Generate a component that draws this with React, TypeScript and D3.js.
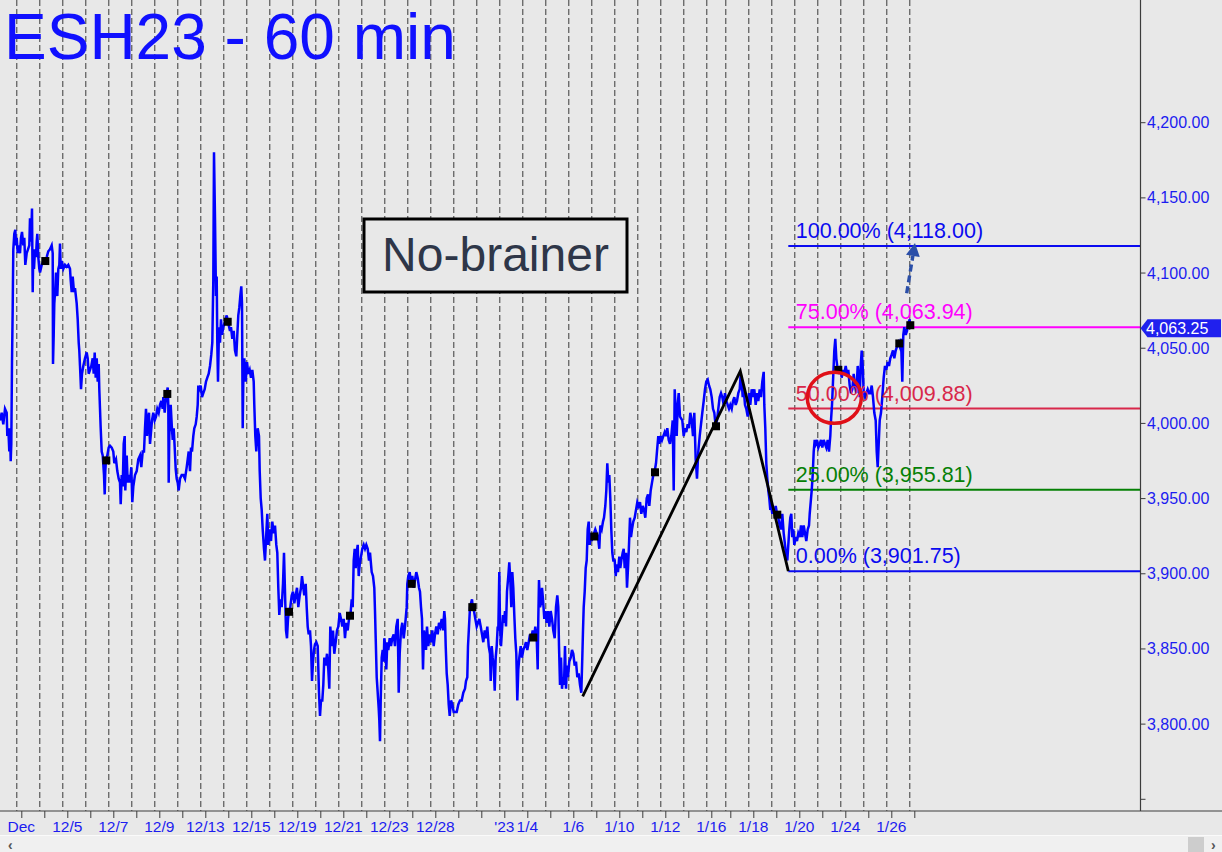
import React from "react";
import * as d3 from "d3";

// ---------- data ----------
// trading sessions shown (one per dashed grid column), bars per session (60-min bars)
const dayLabels: string[] = [
  "Dec", "", "12/5", "", "12/7", "", "12/9", "", "12/13", "", "12/15", "", "12/19", "", "12/21", "", "12/23", "", "12/28", "",
  "", "'23", "1/4", "", "1/6", "", "1/10", "", "1/12", "", "1/16", "", "1/18", "", "1/20", "", "1/24", "", "1/26", "",
];
const sessionBars: number[] = [
  23, 23, 23, 23, 23, 23, 23, 23, 23, 23, 23, 23, 23, 23, 23, 23, 23, 23, 23, 23,
  23, 23, 23, 23, 23, 23, 23, 23, 23, 23, 19, 23, 23, 23, 23, 23, 23, 23, 23, 23,
];

// [bar index (hours from Dec 1 session start), price]
const priceNovDec: [number, number][] = [
  [-16.3,4002.0],[-14.6,4007.1],[-13.0,3999.4],[-11.3,4009.7],[-9.6,4007.1],[-9.0,3991.6],[-8.0,3996.8],[-7.0,3981.3],[-6.3,3996.8],[-5.6,3974.8],[-5.0,3986.4],[-4.3,4040.8],[-3.6,4077.0],[-3.0,4115.8],[-2.0,4126.1],[-1.0,4128.7],[-0.3,4118.4],[0.4,4123.5],[1.4,4113.2],[2.4,4118.4],[3.7,4113.2],[4.7,4123.5],[5.7,4127.4],[7.0,4118.4],[8.0,4123.5],[9.0,4105.4],[10.4,4113.2],[11.7,4115.8],[13.0,4118.4],[13.7,4136.5],[14.7,4120.9],[15.7,4142.9],[16.4,4087.3],[17.0,4115.8],[17.7,4102.8],[18.7,4115.8],[19.7,4110.6],[20.4,4120.9],[21.0,4126.1],[22.0,4110.6],[23.0,4102.8],[23.7,4100.3],[25.4,4105.4],[27.0,4108.0],[29.0,4108.0],[30.4,4110.6],[32.0,4114.5],[33.7,4115.8],[35.4,4118.4],[36.4,4113.2],[36.7,4039.5],[37.4,4058.9],[38.0,4079.6],[39.0,4089.9],[39.7,4100.3],[41.0,4084.7],[42.0,4102.8],[43.0,4105.4],[43.7,4119.7],[44.4,4102.8],[45.4,4108.0],[47.0,4102.8],[48.7,4105.4],[50.4,4104.1],[52.0,4105.4],[53.7,4102.8],[54.4,4095.1],[55.4,4087.3],[56.4,4097.7],[57.7,4087.3],[58.7,4089.9],[60.4,4079.6],[61.4,4069.2],[62.4,4053.7],[63.0,4048.5],[63.7,4038.2],[64.7,4022.7],[65.7,4033.0],[67.0,4038.2],[68.7,4043.3],[70.4,4047.2],[71.4,4043.3],[72.4,4033.0],[73.7,4035.6],[75.0,4038.2],[76.4,4043.3],[77.4,4033.0],[78.4,4047.2],[79.4,4030.4],[80.4,4043.3],[81.4,4027.8],[82.4,4039.5],[83.0,4022.7],[83.7,4009.7],[84.4,3996.8],[85.4,3981.3],[86.4,3978.7],[87.7,3965.7],[88.4,3952.8],[89.0,3968.3],[89.7,3976.1],[91.0,3978.7],[92.4,3983.9],[93.7,3985.1],[95.4,3983.9],[97.0,3981.3],[98.0,3973.5],[99.7,3976.1],[101.0,3968.3],[102.4,3963.2],[103.7,3960.6],[104.4,3946.3],[105.4,3965.7],[106.4,3958.0],[107.4,3986.4],[108.4,3991.6],[109.0,3955.4],[110.4,3978.7],[111.4,3960.6],[112.4,3965.7],[113.7,3960.6],[115.0,3970.9],[116.0,3947.6],[117.0,3958.0],[118.7,3965.7],[120.4,3968.3],[122.0,3976.1],[123.7,3978.7],[125.0,3970.9],[126.4,3981.3],[127.7,3981.3],[128.7,3996.8],[129.7,4009.7],[130.7,3991.6],[131.7,4002.0],[132.7,4007.1],[133.7,3986.4],[134.7,3994.2],[135.7,4002.0],[137.0,4007.1],[138.4,4002.0],[139.7,4004.5],[141.0,4009.7],[142.4,4007.1],[143.7,4012.3],[145.0,4014.9],[146.4,4009.7],[147.0,4017.5],[148.4,4007.1],[149.0,4012.3],[150.4,4020.1],[151.4,4023.9],[152.0,4012.3],[152.4,3960.6],[153.0,3991.6],[154.4,4012.3],[155.4,3999.4],[156.4,3989.0],[157.4,3996.8],[158.4,3983.9],[159.4,3969.6],[160.4,3963.2],[161.4,3960.6],[162.4,3955.4],[163.7,3963.2],[165.4,3965.7],[167.0,3965.7],[168.7,3963.2],[170.4,3970.9],[171.4,3976.1],[172.4,3981.3],[173.7,3968.3],[174.7,3983.9],[175.7,3981.3],[177.0,3991.6],[178.0,3996.8],[179.4,3999.4],[180.4,4004.5],[181.4,4012.3],[182.0,4025.2],[183.0,4022.7],[184.4,4025.2],[185.7,4017.5],[187.0,4020.1],[188.4,4022.7],[189.7,4027.8],[191.0,4030.4],[192.4,4033.0],[193.7,4038.2],[195.0,4045.9],[196.0,4053.7],[197.0,4095.1],[197.7,4180.4],[198.7,4136.5],[199.7,4084.7],[200.4,4097.7],[201.0,4053.7],[201.7,4027.8],[202.7,4064.0],[203.7,4053.7],[204.7,4069.2],[205.7,4058.9],[207.0,4064.0],
  [208.7,4067.9],[210.4,4071.8],[212.0,4066.6],[213.7,4061.5],[214.7,4064.0],[216.0,4056.3],[217.4,4061.5],[218.7,4048.5],[220.0,4044.6],[221.0,4058.9],[222.0,4071.8],[223.0,4077.0],[224.0,4084.7],[225.0,4091.2],[225.7,4079.6],[226.4,3996.8],[227.0,4027.8],[228.0,4043.3],[229.4,4027.8],[230.7,4040.8],[232.0,4033.0],[233.4,4035.6],[234.7,4030.4],[236.0,4035.6],[237.4,4027.8],[238.0,4012.3],[239.0,3991.6],[240.0,3981.3],[241.4,3996.8],[242.7,3991.6],[243.4,3968.3],[244.4,3950.2],[245.4,3942.5],[246.4,3929.5],[247.7,3916.6],[248.7,3908.8],[250.0,3926.9],[251.0,3939.9],[252.0,3919.2],[253.4,3929.5],[254.7,3921.8],[256.0,3934.7],[257.4,3926.9],[258.7,3932.1],[260.0,3919.2],[261.0,3914.0],[262.0,3890.7],[263.0,3872.6],[264.0,3883.0],[265.4,3877.8],[266.7,3893.3],[267.7,3914.0],[268.7,3888.1],[269.7,3862.3],[270.7,3857.1],[271.7,3870.0],[272.7,3875.2],[274.0,3877.8],[275.4,3885.6],[276.7,3888.1],[278.0,3880.4],[279.4,3885.6],[280.7,3890.7],[282.0,3877.8],[283.4,3885.6],[284.7,3890.7],[285.7,3898.5],[287.0,3890.7],[288.0,3885.6],[289.4,3893.3],[290.4,3877.8],[291.4,3864.9],[292.4,3859.7],[293.7,3862.3],[294.7,3851.9],[295.7,3828.7],[296.7,3841.6],[297.7,3849.3],[298.7,3853.2],[300.0,3854.5],[301.4,3851.9],[302.7,3820.9],[303.7,3805.4],[304.7,3815.7],[306.0,3815.7],[307.0,3826.1],[308.0,3844.2],[309.4,3839.0],[310.7,3846.8],[312.0,3836.4],[313.0,3823.5],[314.0,3864.9],[315.4,3851.9],[316.7,3862.3],[318.0,3846.8],[319.4,3854.5],[320.7,3862.3],[322.0,3864.9],[323.4,3873.9],[324.7,3870.0],[326.0,3864.9],[327.4,3870.0],[328.7,3857.1],[330.0,3867.4],[331.4,3862.3],[332.7,3870.0],[334.0,3871.3],[335.4,3883.0],[336.4,3877.8],[337.4,3908.8],[338.4,3916.6],[339.4,3903.7],[340.4,3914.0],[341.4,3919.2],[342.4,3898.5],[343.4,3906.3],[344.7,3911.4],[346.0,3916.6],[347.4,3919.2],[348.7,3916.6],[350.0,3919.2],[351.4,3916.6],[352.7,3908.8],[353.7,3914.0],[355.4,3901.1],[356.7,3898.5],[358.0,3890.7],[358.7,3875.2],[359.4,3857.1],[360.4,3831.2],[361.4,3820.9],[362.4,3810.5],[363.0,3802.8],[363.7,3788.6],[364.4,3815.7],[365.4,3844.2],[366.4,3849.3],[367.4,3841.6],[368.0,3857.1],[369.0,3851.9],[370.0,3836.4],[371.0,3854.5],[372.0,3849.3],[373.4,3857.1],[374.7,3851.9],[376.0,3857.1],[377.4,3859.7],[378.7,3851.9],[380.0,3864.9],[381.4,3870.0],[382.4,3820.9],[383.4,3846.8],[384.7,3862.3],[386.0,3867.4],[387.4,3857.1],[388.7,3864.9],[389.7,3872.6],[390.4,3877.8],[391.0,3893.3],[392.0,3898.5],[393.4,3901.1],[394.7,3893.3],[396.0,3898.5],[397.4,3890.7],[398.7,3895.9],[400.0,3901.1],[401.4,3897.2],[402.7,3890.7],[403.7,3888.1],[404.7,3877.8],[405.7,3870.0],[406.7,3836.4],[407.7,3862.3],[408.7,3857.1],[409.7,3849.3],[410.7,3864.9],[412.0,3851.9],[413.4,3859.7],[414.7,3854.5],[416.0,3862.3],[417.4,3851.9],[418.7,3859.7],[420.0,3864.9],[421.4,3859.7],[422.7,3867.4],[424.0,3864.9],[425.4,3870.0],[426.7,3862.3],[428.0,3875.2],[428.7,3870.0],[429.4,3851.9],[430.4,3833.8],[431.4,3826.1],[432.4,3813.1],[433.4,3805.4],[434.7,3815.7],[436.0,3813.1],[437.4,3808.0],[438.7,3808.0],
];
const priceJan: [number, number][] = [
  [440.4,3808.0],[442.0,3813.1],[443.7,3815.7],[445.4,3815.7],[447.0,3820.9],[448.7,3823.5],[449.7,3828.7],[451.0,3831.2],[451.7,3851.9],[452.7,3864.9],[453.7,3877.8],[454.7,3880.4],[455.7,3883.0],[456.4,3877.8],[457.7,3875.2],[459.0,3870.0],[460.4,3864.9],[461.7,3867.4],[463.0,3870.0],[464.4,3864.9],[465.7,3859.7],[467.0,3854.5],[468.4,3862.3],[469.7,3857.1],[471.0,3864.9],[472.4,3851.9],[473.7,3846.8],[474.4,3828.7],[475.4,3851.9],[476.4,3844.2],[477.4,3839.0],[478.4,3822.2],[479.4,3844.2],[480.4,3851.9],[481.4,3864.9],[482.0,3862.3],[483.0,3901.1],[483.7,3867.4],[484.7,3851.9],[485.7,3862.3],[486.7,3872.6],[487.7,3867.4],[488.7,3875.2],[489.7,3864.9],[490.7,3888.1],[492.0,3898.5],[493.0,3907.6],[494.0,3895.9],[495.0,3877.8],[496.0,3901.1],[497.0,3890.7],[498.0,3872.6],[499.0,3857.1],[500.0,3846.8],[501.0,3815.7],[502.0,3836.4],[503.0,3844.2],[504.4,3851.9],[505.7,3844.2],[507.0,3849.3],[508.4,3851.9],[509.7,3854.5],[511.0,3849.3],[512.4,3854.5],[513.7,3859.7],[515.0,3857.1],[516.4,3862.3],[517.7,3857.1],[519.0,3864.9],[520.4,3857.1],[521.4,3836.4],[522.0,3870.0],[522.7,3895.9],[523.7,3877.8],[524.7,3880.4],[525.7,3890.7],[526.7,3883.0],[528.0,3870.0],[529.0,3875.2],[530.4,3867.4],[531.7,3875.2],[533.0,3864.9],[534.4,3875.2],[535.7,3870.0],[537.0,3862.3],[538.4,3857.1],[539.7,3877.8],[541.0,3885.6],[542.0,3877.8],[542.7,3851.9],[543.7,3826.1],[544.7,3844.2],[545.7,3823.5],[546.7,3831.2],[547.7,3826.1],[548.7,3851.9],[549.7,3823.5],[550.7,3839.0],[551.7,3831.2],[553.0,3841.6],[554.4,3844.2],[555.7,3849.3],[557.0,3846.8],[558.4,3839.0],[559.7,3841.6],[561.0,3831.2],[562.4,3833.8],[563.7,3826.1],[565.0,3820.9],[566.0,3844.2],[566.7,3862.3],[567.4,3877.8],[568.4,3888.1],[569.4,3903.7],[570.4,3908.8],[571.4,3929.5],[572.4,3934.7],[573.4,3919.2],[574.4,3926.9],[575.4,3921.8],[576.4,3924.4],[577.7,3926.9],[579.0,3929.5],[580.4,3926.9],[581.7,3924.4],[583.0,3916.6],[584.0,3932.1],[585.4,3929.5],[586.7,3934.7],[587.7,3937.3],[589.0,3945.1],[590.0,3955.4],[591.0,3973.5],[592.0,3960.6],[593.0,3965.7],[594.0,3950.2],[595.0,3929.5],[596.0,3914.0],[597.0,3908.8],[598.4,3908.8],[599.4,3898.5],[600.4,3906.3],[601.7,3901.1],[603.0,3911.4],[604.0,3903.7],[605.0,3908.8],[606.4,3914.0],[607.4,3916.6],[608.4,3903.7],[609.7,3914.0],[610.7,3890.7],[611.7,3903.7],[612.7,3919.2],[613.7,3937.3],[614.7,3924.4],[615.7,3929.5],[617.0,3934.7],[618.4,3937.3],[619.7,3942.5],[621.0,3947.6],[622.4,3945.1],[623.7,3947.6],[625.0,3939.9],[626.4,3945.1],[627.7,3942.5],[629.0,3937.3],[630.4,3950.2],[631.7,3952.8],[633.0,3945.1],[634.4,3955.4],[635.7,3960.6],[637.0,3965.7],[638.4,3968.3],[639.7,3973.5],[641.0,3983.9],[642.0,3991.6],[643.0,3986.4],[644.4,3991.6],[645.7,3989.0],[647.0,3991.6],[648.4,3994.2],[649.7,3991.6],[651.0,3996.8],[652.4,3989.0],[653.7,3986.4],[655.0,3991.6],[656.4,4002.0],[657.4,3955.4],[658.4,4022.7],[659.4,4007.1],[660.4,3991.6],[661.4,4012.3],[662.4,4020.1],[663.7,4004.5],
  [666.0,4002.0],[667.4,3991.6],[668.7,3996.8],[670.0,3994.2],[671.4,3999.4],[672.7,3996.8],[674.0,4007.1],[675.4,4002.0],[676.7,3991.6],[678.0,4007.1],[679.4,3976.1],[680.7,3963.2],[682.0,3981.3],[683.4,3991.6],[684.7,3999.4],[686.0,4007.1],[687.4,4014.9],[688.7,4022.7],[690.0,4027.8],[691.4,4029.1],[692.7,4025.2],[694.0,4022.7],[695.4,4017.5],[696.7,4009.7],[698.0,4007.1],[699.4,3998.1],[700.7,4002.0],[702.0,4009.7],[703.4,4017.5],[704.7,4020.1],[706.0,4017.5],[707.4,4012.3],[708.7,4020.1],[710.0,4014.9],[711.4,4012.3],[712.7,4009.7],[714.0,4012.3],[715.4,4009.7],[716.7,4014.9],[718.0,4017.5],[719.4,4012.3],[720.7,4014.9],[722.0,4020.1],[723.4,4022.7],[724.4,4033.0],[725.4,4027.8],[726.4,4017.5],[727.4,4022.7],[728.7,4012.3],[730.0,4009.7],[731.4,4004.5],[732.7,4020.1],[734.0,4012.3],[735.4,4022.7],[736.7,4017.5],[738.0,4022.7],[739.4,4012.3],[740.7,4020.1],[742.0,4014.9],[743.4,4022.7],[744.7,4017.5],[746.0,4027.8],[747.4,4034.3],[748.0,4012.3],[749.0,3996.8],[750.0,3973.5],[751.0,3963.2],[752.0,3955.4],[753.0,3950.2],[754.0,3942.5],[755.0,3945.1],[756.0,3939.9],[757.0,3942.5],[758.0,3939.9],[759.4,3945.1],[760.7,3939.9],[762.0,3937.3],[763.4,3932.1],[764.7,3929.5],[766.0,3939.9],[767.4,3926.9],[768.7,3919.2],[770.0,3911.4],[771.0,3908.8],[772.0,3919.2],[773.0,3929.5],[774.0,3937.3],[775.0,3939.9],[776.0,3924.4],[777.0,3929.5],[778.0,3919.2],[779.4,3924.4],[780.7,3921.8],[782.0,3926.9],[783.4,3924.4],[784.7,3932.1],[786.0,3924.4],[787.4,3932.1],[788.7,3926.9],[790.0,3921.8],[791.4,3929.5],[792.7,3932.1],[793.4,3939.9],[794.4,3947.6],[795.4,3955.4],[796.4,3965.7],[797.4,3981.3],[798.4,3989.0],[799.4,3986.4],[800.7,3989.0],[802.0,3983.9],[803.4,3986.4],[804.7,3989.0],[806.0,3983.9],[807.4,3989.0],[808.7,3986.4],[810.0,3983.9],[811.4,3989.0],[812.7,3981.3],[814.0,3991.6],[814.7,4002.0],[815.7,4012.3],[816.7,4027.8],[818.0,4048.5],[819.0,4056.3],[820.0,4043.3],[821.4,4035.6],[822.7,4033.0],[824.0,4038.2],[825.4,4030.4],[826.7,4035.6],[828.0,4033.0],[829.4,4038.2],[830.7,4033.0],[832.0,4035.6],[833.4,4025.2],[834.7,4020.1],[836.0,4022.7],[837.4,4033.0],[838.7,4025.2],[840.0,4020.1],[841.4,4038.2],[842.4,4030.4],[843.4,4017.5],[844.4,4038.2],[845.4,4048.5],[846.4,4038.2],[847.4,4020.1],[848.7,4017.5],[850.0,4020.1],[851.4,4022.7],[852.7,4020.1],[854.0,4020.1],[855.4,4025.2],[856.7,4017.5],[858.0,4007.1],[859.4,4002.0],[860.4,3981.3],[861.4,3970.9],[862.4,3986.4],[863.4,4002.0],[864.7,4007.1],[866.0,4017.5],[867.4,4030.4],[868.7,4038.2],[870.0,4035.6],[871.4,4040.8],[872.7,4038.2],[874.0,4043.3],[875.4,4045.9],[876.7,4048.5],[878.0,4043.3],[879.4,4048.5],[880.7,4051.1],[882.0,4053.7],[883.4,4051.1],[884.7,4056.3],[886.0,4027.8],[887.0,4058.9],[888.0,4064.0],[889.4,4058.9],[890.7,4061.5],[892.0,4066.6],[893.4,4069.2],[894.0,4063.25],
];

// black square markers on the price line
const markerHours: number[] = [29, 90, 151, 211.4, 272.7, 333.7, 395.4, 456, 517, 578, 638.7, 699.7, 761, 822, 883, 894];
const markerPrices: number[] = [4108, 3975.4, 4019.6, 4067.6, 3874.7, 3872.1, 3893.3, 3877.8, 3857.6, 3924.8, 3967.5, 3998.1, 3939.3, 4035.6, 4053.2, 4065.3];

// ABC pattern (A low, B high, C low) and Fibonacci targets
const abcHours: number[] = [566.4, 724.0, 772.0];
const abcPrices: number[] = [3818.5, 4034.75, 3901.75];
const fibRatios: number[] = [1, 0.75, 0.5, 0.25, 0];
const fibColors: string[] = ["#0a0af0", "#ff00ff", "#d8274a", "#058005", "#0a0af0"];

// projected move arrow (dashed)
const arrowHours: number[] = [890.4, 898.7];
const arrowPrices: number[] = [4086.6, 4120];

// red circle around 50% retest
const circleHour = 818;
const circlePrice = 4017;

const yTicks: number[] = [3750, 3800, 3850, 3900, 3950, 4000, 4050, 4100, 4150, 4200];
const lastPrice = 4063.25;

const title = "ESH23 - 60 min";
const noteText = "No-brainer";

// ---------- layout ----------
const W = 1222;
const H = 852;
const plotRight = 1140.5;
const plotBottom = 811;
const FONT = "'Liberation Sans', Arial, sans-serif";

export default function App() {
  const x = d3.scaleLinear().domain([0, 900]).range([16.3, 916.3]);
  const y = d3.scaleLinear().domain([3750, 4200]).range([799.3, 122.7]);

  const dayStarts = [0, ...d3.cumsum(sessionBars)].slice(0, sessionBars.length);
  const series = [...priceNovDec, ...priceJan];
  const line = d3
    .line<[number, number]>()
    .x((d) => x(d[0]))
    .y((d) => y(d[1]));

  const fmt2 = d3.format(",.2f");
  const [A, B, C] = abcPrices;
  const fibLevels = fibRatios.map((r) => C + r * (B - A));
  const fibX0 = x(abcHours[2]);

  const axisColor = "#3c3c3c";
  const labelBlue = "#1c1cf0";

  const tagY = y(lastPrice);

  const ax0 = x(arrowHours[0]);
  const ay0 = y(arrowPrices[0]);
  const ax1 = x(arrowHours[1]);
  const ay1 = y(arrowPrices[1]);
  const ang = Math.atan2(ay1 - ay0, ax1 - ax0);
  const headLen = 13;
  const headW = 7;
  const bx = ax1 - headLen * Math.cos(ang);
  const by = ay1 - headLen * Math.sin(ang);
  const px = -Math.sin(ang);
  const py = Math.cos(ang);

  return (
    <svg
      width={W}
      height={H}
      style={{ position: "absolute", left: 0, top: 0, background: "#e8e8e8" }}
      fontFamily={FONT}
    >
      <defs>
        <clipPath id="plot">
          <rect x={0} y={0} width={plotRight} height={plotBottom} />
        </clipPath>
      </defs>
      <rect x={0} y={0} width={W} height={H} fill="#e8e8e8" />

      {/* day separators */}
      {dayStarts.map((h, i) => (
        <line
          key={"g" + i}
          x1={x(h) + 0.5}
          x2={x(h) + 0.5}
          y1={0}
          y2={plotBottom}
          stroke="#3a3a3a"
          strokeWidth={1}
          strokeDasharray="6,3"
        />
      ))}

      {/* title */}
      <text x={4} y={59} fontSize={64} fill="#1010ff">
        {title}
      </text>

      {/* note box */}
      <rect x={364} y={219} width={263} height={73} fill="#e8e8e8" stroke="#000" strokeWidth={3} />
      <text x={495.5} y={271} fontSize={48} fill="#2e3648" textAnchor="middle">
        {noteText}
      </text>

      <g clipPath="url(#plot)">
        {/* fib lines */}
        {fibLevels.map((lv, i) => (
          <line
            key={"f" + i}
            x1={fibX0}
            x2={plotRight}
            y1={y(lv)}
            y2={y(lv)}
            stroke={fibColors[i]}
            strokeWidth={2}
          />
        ))}

        {/* price line */}
        <path d={line(series) || ""} fill="none" stroke="#0000ff" strokeWidth={2.5} strokeLinejoin="miter" />

        {/* fib labels */}
        {fibLevels.map((lv, i) => (
          <text key={"fl" + i} x={fibX0 + 7.5} y={y(lv) - 8} fontSize={21.5} fill={fibColors[i]}>
            {`${d3.format(".2f")(fibRatios[i] * 100)}% (${fmt2(lv)})`}
          </text>
        ))}

        {/* ABC zigzag */}
        <path
          d={line(abcHours.map((h, i) => [h, abcPrices[i]] as [number, number])) || ""}
          fill="none"
          stroke="#000"
          strokeWidth={2.8}
        />

        {/* markers */}
        {markerHours.map((h, i) => (
          <rect key={"m" + i} x={x(h) - 4} y={y(markerPrices[i]) - 4} width={8} height={8} fill="#000" />
        ))}

        {/* circle */}
        <ellipse cx={x(circleHour)} cy={y(circlePrice)} rx={27} ry={25.5} fill="none" stroke="#e01018" strokeWidth={3.5} />

        {/* arrow */}
        <line x1={ax0} y1={ay0} x2={bx} y2={by} stroke="#2a4ea8" strokeWidth={3.4} strokeDasharray="7,4" />
        <polygon
          points={`${ax1},${ay1} ${bx + px * headW},${by + py * headW} ${bx - px * headW},${by - py * headW}`}
          fill="#2a4ea8"
        />
      </g>

      {/* right axis */}
      <line x1={plotRight} x2={plotRight} y1={0} y2={plotBottom} stroke={axisColor} strokeWidth={1.2} />
      {yTicks.map((t) => (
        <g key={"yt" + t}>
          <line x1={plotRight} x2={plotRight + 5} y1={y(t)} y2={y(t)} stroke={axisColor} strokeWidth={1} />
          {t !== 3750 && (
            <text x={1147} y={y(t) + 5.5} fontSize={16} fill={labelBlue}>
              {fmt2(t)}
            </text>
          )}
        </g>
      ))}

      {/* last price tag */}
      <polygon
        points={`${plotRight},${tagY} ${plotRight + 7},${tagY - 9} 1221,${tagY - 9} 1221,${tagY + 9} ${plotRight + 7},${tagY + 9}`}
        fill="#2020ee"
      />
      <text x={1146} y={tagY + 5.5} fontSize={16} fill="#ffffff">
        {fmt2(lastPrice)}
      </text>

      {/* bottom axis */}
      <line x1={0} x2={W} y1={plotBottom} y2={plotBottom} stroke={axisColor} strokeWidth={1.2} />
      {dayStarts.map((h, i) => (
        <g key={"xt" + i}>
          <line x1={x(h + 5) + 0.5} x2={x(h + 5) + 0.5} y1={plotBottom} y2={plotBottom + 7} stroke={axisColor} strokeWidth={1} />
          {dayLabels[i] && (
            <text x={x(h + 5)} y={832} fontSize={15.5} fill={labelBlue} textAnchor="middle">
              {dayLabels[i]}
            </text>
          )}
        </g>
      ))}

      {/* scrollbar */}
      <rect x={0} y={836} width={W} height={16} fill="#f0f0f0" />
      <line x1={0} x2={W} y1={835.5} y2={835.5} stroke="#fafafa" strokeWidth={1} />
      <rect x={1188} y={837} width={16} height={15} fill="#cdcdcd" />
      <text x={8} y={850} fontSize={14} fill="#555" fontWeight="bold">
        ‹
      </text>
      <text x={1211} y={850} fontSize={14} fill="#555" fontWeight="bold">
        ›
      </text>
    </svg>
  );
}
